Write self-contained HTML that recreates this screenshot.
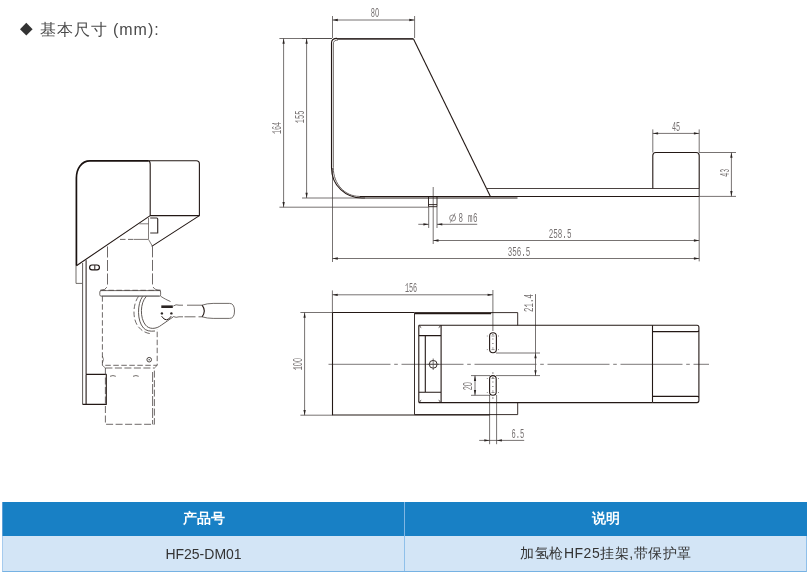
<!DOCTYPE html>
<html><head><meta charset="utf-8">
<style>
html,body{margin:0;padding:0;background:#fff;width:809px;height:576px;overflow:hidden;position:relative;font-family:"Liberation Sans",sans-serif;}
#dw{position:absolute;left:0;top:0;}
.o{fill:none;stroke:#231815;stroke-width:1.1;stroke-linecap:butt;stroke-linejoin:round;}
.g{fill:none;stroke:#4d4643;stroke-width:0.9;stroke-linecap:butt;stroke-linejoin:round;}
.d{fill:none;stroke:#4a4443;stroke-width:0.75;}
.dh{fill:none;stroke:#4a4443;stroke-width:0.8;stroke-dasharray:5.5 2.5;}
.cl{fill:none;stroke:#5a5555;stroke-width:0.8;stroke-dasharray:62 3.7 3.6 3.7;}
.a{fill:#2a2422;stroke:none;}
.t{font-family:"Liberation Mono",monospace;font-size:12.5px;fill:#757070;}
.row{position:absolute;left:2.5px;width:804.5px;box-sizing:border-box;will-change:transform;}
.cell{position:absolute;top:0;height:100%;display:flex;align-items:center;justify-content:center;box-sizing:border-box;}
</style></head><body>
<svg id="dw" style="will-change:transform" width="809" height="576" viewBox="0 0 809 576">
<!-- heading -->
<path d="M26.3,22.8 L32.6,29.2 L26.3,35.6 L20,29.2 Z" fill="#333"/>
<text x="39.5" y="35" style="font-family:'Liberation Sans',sans-serif;font-size:16px;fill:#4a4a4a;font-weight:300;letter-spacing:1px">基本尺寸 (mm):</text>

<!-- ============ SIDE VIEW ============ -->
<g id="side">
  <path class="d" d="M332.5,16 V38 M332.5,168 V262 M414.6,16 V38 M332.5,20 H414.6
    M279.4,38.5 H332 M302,38.5 H332 M279.4,207.2 H428.5 M283.6,38.5 V207.2
    M302,198 H365 M306.6,38.5 V198
    M433.2,187 V244 M428.7,206.7 V228 M437,206.7 V228
    M418.3,224.3 H428.7 M437,224.3 H477.2
    M433.2,240.5 H699.2 M332.5,258.5 H699.2 M699.2,196.6 V261.4
    M652.8,129.4 V152.5 M699.2,129.4 V152.5 M652.8,133.4 H699.2
    M699.2,152.5 H736 M699.2,196.4 H736 M731.4,152.5 V196.4"/>
  <g class="a">
    <path d="M332.5,20 l5.3,-1.15 v2.3z M414.6,20 l-5.3,-1.15 v2.3z"/>
    <path d="M283.6,38.5 l-1.15,5.3 h2.3z M283.6,207.2 l-1.15,-5.3 h2.3z"/>
    <path d="M306.6,38.5 l-1.15,5.3 h2.3z M306.6,198 l-1.15,-5.3 h2.3z"/>
    <path d="M428.7,224.3 l-5.3,-1.15 v2.3z M437,224.3 l5.3,-1.15 v2.3z"/>
    <path d="M433.2,240.5 l5.3,-1.15 v2.3z M699.2,240.5 l-5.3,-1.15 v2.3z"/>
    <path d="M332.5,258.5 l5.3,-1.15 v2.3z M699.2,258.5 l-5.3,-1.15 v2.3z"/>
    <path d="M652.8,133.4 l5.3,-1.15 v2.3z M699.2,133.4 l-5.3,-1.15 v2.3z"/>
    <path d="M731.4,152.5 l-1.15,5.3 h2.3z M731.4,196.4 l-1.15,-5.3 h2.3z"/>
  </g>
  <path class="o" style="stroke-width:1.9;stroke:#3d3533" d="M337,38.9 H413.5"/>
  <path class="o" style="stroke-width:1.1" d="M337,38.4 Q331.5,38.4 331.5,43 V167.7 C331.6,186 346,198 362,198 H517.5"/>
  <path class="g" style="stroke-width:1;stroke:#6a6361" d="M338,40 Q333.3,40 333.3,44 V167.7 C333.3,184 345,196.4 359.4,196.4"/>
  <path class="o" d="M359.4,196.5 H699.2"/>
  <path class="o" d="M413.5,38.9 L490.4,196.4"/>
  <path class="o" style="stroke:#4a4240" d="M486.5,188.5 H699.2 V196.6"/>
  <path class="o" d="M652.8,188.5 V155.5 Q652.8,152.5 655.8,152.5 H696.2 Q699.2,152.5 699.2,155.5 V188.4"/>
  <path class="o" style="stroke-width:0.9" d="M428.5,196.6 V206.7 H437 V196.6 M428.5,204.6 H437"/>
</g>

<!-- ============ PLAN VIEW ============ -->
<g id="plan">
  <path class="d" d="M332.4,290.4 V312.5 M492.9,290 V331 M332.4,294.8 H492.9
    M300.4,312.5 H332.4 M300.4,415.2 H332.4 M304.6,312.5 V415.2
    M535.5,294.1 V376 M496,353 H540 M496,375.6 H540
    M471,395.3 H490 M471,375.6 H490 M475,375.6 V395.3
    M489.6,395 V444.2 M496.6,395 V444.2 M479.2,440.4 H524.2"/>
  <g class="a">
    <path d="M332.4,294.8 l5.3,-1.15 v2.3z M492.9,294.8 l-5.3,-1.15 v2.3z"/>
    <path d="M304.6,312.5 l-1.15,5.3 h2.3z M304.6,415.2 l-1.15,-5.3 h2.3z"/>
    <path d="M535.5,353 l-1.15,5.3 h2.3z M535.5,375.6 l-1.15,-5.3 h2.3z"/>
    <path d="M475,375.6 l-1.15,5.3 h2.3z M475,395.3 l-1.15,-5.3 h2.3z"/>
    <path d="M489.6,440.4 l-5.3,-1.15 v2.3z M496.6,440.4 l5.3,-1.15 v2.3z"/>
  </g>
  <path class="cl" d="M328.5,364.3 H709"/>
  <path class="o" style="stroke-width:1.1" d="M332.5,312.5 H414.5 M332.5,312.5 V415 H489.6"/>
  <path class="o" style="stroke-width:1.5" d="M414.5,313.6 H491"/>
  <path class="o" style="stroke-width:0.6" d="M491,312.8 V313.6"/>
  <path class="o" style="stroke-width:0.9" d="M414.5,312.6 H517.7 V325.3 M414.5,414.6 H517.7 V402.5 M414.5,313.2 V414.6"/>
  <path class="o" d="M418.8,325.3 H652.5 M418.8,402.6 H652.5 M418.8,325.3 V402.5 M441.1,325.3 V402.5 M418.8,335.6 H441.1 M418.8,392.3 H441.1 M425.3,335.6 V392.3"/>
  <path class="o" style="stroke-width:0.9" d="M419.4,326 L421.2,327.6 M440.5,326 L438.7,327.6 M419.4,401.9 L421.2,400.3 M440.5,401.9 L438.7,400.3"/>
  <circle class="o" style="stroke-width:0.9" cx="433.2" cy="364.3" r="3.9"/>
  <path class="d" d="M433.2,358.5 V370 M427.5,364.3 H439"/>
  <rect class="o" x="489.6" y="332.8" width="6.8" height="19.9" rx="3.4"/>
  <path class="d" style="stroke-dasharray:1 3.5;stroke-width:0.9" d="M492.9,334 V352"/>
  <path class="d" style="stroke-width:0.6" d="M486.8,336 h1 M498,336 h1 M486.8,349.6 h1 M498,349.6 h1 M491.5,336 h3 M491.5,349.6 h3"/>
  <rect class="o" x="489.6" y="375.6" width="6.6" height="19.6" rx="3.3"/>
  <path class="d" style="stroke-dasharray:1 3.5;stroke-width:0.9" d="M492.9,377 V394"/>
  <path class="d" style="stroke-width:0.6" d="M486.8,378.5 h1 M498,378.5 h1 M486.8,392.5 h1 M498,392.5 h1 M491.5,378.5 h3 M491.5,392.5 h3 M492.9,372 V374 M492.9,397 V399"/>
  <path class="o" d="M652.5,325.3 V402.6 M652.5,325.3 H697 Q698.9,325.3 698.9,327.3 V400.6 Q698.9,402.6 697,402.6 H652.5 M652.5,331.6 H697.5 Q698.9,331.6 698.9,330 M652.5,396.4 H697.5 Q698.9,396.4 698.9,398"/>
</g>

<!-- ============ LEFT PICTORIAL ============ -->
<g id="pic">
  <path class="o" style="stroke-width:1.7;stroke:#1a1210" d="M76.4,265.8 V178 C76.4,168.6 81.5,160.9 90,160.9 H148"/>
  <path class="o" d="M148,160.8 H196.4 Q199.4,160.8 199.4,164 V215.6 L151.7,246.4"/>
  <path class="o" d="M150.2,215.6 L76.4,265.8 M150.2,164 V215.6 H199.4 M148,160.8 Q150.2,161 150.2,164"/>
  <path class="o" style="stroke-width:1.2;stroke:#3a3230" d="M150.2,218 H156.7 Q157.7,218 157.7,219 V233 H150.2"/>
  <path class="g" style="stroke-width:0.7" d="M139.4,223.8 H148.5 M148.5,218 V239.4 L152.5,246.4"/>
  <path class="g" style="stroke-width:0.8" d="M76,265.8 V283.4 H82.1"/>
  <path class="g" d="M82.6,263 V404.4"/>
  <path class="o" style="stroke-width:1" d="M86.1,260.2 V374.4"/>
  <path class="o" d="M82.6,404.4 H86.1 M86.1,374.4 H106.3 V404.4 H86.1 V374.4"/>
  <rect class="o" style="stroke-width:1.2;stroke:#1a1210" x="89.6" y="265" width="9.8" height="4.8" rx="2.4"/>
  <path class="o" style="stroke-width:1" d="M94.8,265.2 V269.6"/>
  <path class="dh" d="M120,239.4 H134 M100.4,290.3 H160.5"/>
  <path class="g" style="stroke-width:0.75" d="M134,239.4 H148"/>
  <path class="dh" style="stroke-dasharray:11 2.5" d="M152.5,246.4 V284 Q152.5,290.3 160.5,290.3 M107.5,246.5 V284 Q107.5,290.3 100.4,290.3"/>
  <path class="g" style="stroke-width:0.8" d="M101.5,290.6 H159.5 Q160.6,290.6 160.6,292 V294.8 Q160.6,296.2 159.5,296.2 H101.5 Q99.8,296.2 99.8,294.8 V292 Q99.8,290.6 101.5,290.6"/>
  <path class="g" style="stroke-width:1.2;stroke:#777" d="M101.5,296 H159.5"/>
  <path class="dh" d="M102.4,296.2 V365.3 H157.2 V329"/>
  <path class="g" style="stroke-width:0.7" d="M102.4,365.3 L105.4,368 M157.2,365.3 L154.4,368 M102.4,356 Q104.5,359.5 102.4,363"/>
  <path class="dh" style="stroke-dasharray:7 2.5" d="M105.4,368 H154.4 M105.4,368 V424.3 H154.4 V368"/>
  <path class="dh" style="stroke-dasharray:10 2" d="M152.6,372 V424.3"/>
  <path class="g" style="stroke-width:0.8" d="M110,376.3 Q113,374.8 115.8,376.3 M133,376.3 Q136,374.8 138.7,376.3"/>
  <circle class="g" style="stroke-width:1" cx="149.2" cy="359.7" r="2.3"/><circle cx="149.2" cy="359.7" r="0.8" fill="#555"/>
  <!-- knob -->
  <path class="dh" d="M138.5,296.4 C132.3,305 132.3,321 139.5,328 C142,331 146,333 150,333.6"/>
  <path class="g" style="stroke-width:0.9" d="M142.6,296.4 C137,304 137,321 143.5,328 C146,330.8 150,331.6 155,331"/>
  <path class="g" style="stroke-width:0.9" d="M146.3,296.4 C140,303 139.8,318 145.5,325 C149,329.5 156,329.5 161.5,325 C165,322.5 169,320 173.3,316.8"/>
  <path class="g" style="stroke-width:0.8" d="M160.6,296.2 C164,298.5 167,300 170.5,301.5"/>
  <path d="M161.3,305.4 h11.5 v2.6 h-11.5z" fill="#2a2422"/>
  <circle cx="161.9" cy="313.4" r="1.2" fill="#2a2422"/>
  <circle cx="171.4" cy="313.4" r="1.2" fill="#2a2422"/>
  <path class="o" style="stroke-width:1" d="M161.6,316.2 Q166.4,323.5 171.2,316.2"/>
  <!-- handle -->
  <path class="g" style="stroke-width:0.8" d="M173.3,306 Q176,304 179,305.2 H183 M173.3,316.5 Q176,318 179,316.8 H183"/>
  <path class="g" style="stroke-width:0.8" d="M187,305.2 H202.1 M184.5,316.8 H195.5 M198.5,316.8 H202.1"/>
  <path class="o" style="stroke-width:1.1" d="M202.1,305.2 Q206.5,311 202.1,316.8"/>
  <path class="g" style="stroke-width:0.8" d="M202.1,305.2 Q207,303.4 213.2,303.4 H229.5 Q234.5,303.4 234.5,311 Q234.5,318.4 229.5,318.4 H213.2 Q207,318.4 202.1,316.8"/>
</g>
<!-- TEXTS -->
<text class="t" transform="translate(370.76,17.44) scale(0.561,1)">8O</text>
<text class="t" transform="translate(280.64,134.02) rotate(-90) scale(0.540,1)">164</text>
<text class="t" transform="translate(303.54,123.13) rotate(-90) scale(0.552,1)">155</text>
<circle cx="452.6" cy="218" r="3" fill="none" stroke="#757070" stroke-width="0.8"/><path d="M450.3,222.6 L455,213.3" stroke="#757070" stroke-width="0.8"/><text class="t" transform="translate(458.5,222.0) scale(0.6,1)" style="letter-spacing:0.5px">8 m6</text>
<text class="t" transform="translate(548.73,238.19) scale(0.607,1)">258.5</text>
<text class="t" transform="translate(507.73,256.19) scale(0.601,1)">356.5</text>
<text class="t" transform="translate(672.02,131.04) scale(0.543,1)">45</text>
<text class="t" transform="translate(728.54,176.67) rotate(-90) scale(0.522,1)">43</text>
<text class="t" transform="translate(404.88,292.24) scale(0.542,1)">156</text>
<text class="t" transform="translate(301.99,370.33) rotate(-90) scale(0.555,1)">1OO</text>
<text class="t" transform="translate(532.77,311.97) rotate(-90) scale(0.597,1)">21.4</text>
<text class="t" transform="translate(472.29,390.34) rotate(-90) scale(0.561,1)">2O</text>
<text class="t" transform="translate(511.56,438.09) scale(0.566,1)">6.5</text>

</svg>

<div class="row" style="top:502px;height:34px;left:2px;width:805px;background:#1880c5;border-left:1px solid #5d9fd6;">
  <div class="cell" style="left:0;width:402px;color:#fff;font-weight:bold;font-size:13.5px;">产品号</div>
  <div class="cell" style="left:401px;width:403px;color:#fff;font-weight:bold;font-size:13.5px;border-left:1px solid #7fb6e3;">说明</div>
</div>
<div class="row" style="top:536px;height:36px;left:2px;width:805px;background:#d3e5f6;border-left:1px solid #a6cbee;border-right:1px solid #8fc0ea;border-bottom:1px solid #76b2e3;">
  <div class="cell" style="left:0;width:401px;color:#333;font-size:14px;padding-top:0px;">HF25-DM01</div>
  <div class="cell" style="left:401px;width:403px;color:#333;font-size:14px;letter-spacing:0.5px;border-left:1px solid #8fc0ea;">加氢枪HF25挂架,带保护罩</div>
</div>
</body></html>
